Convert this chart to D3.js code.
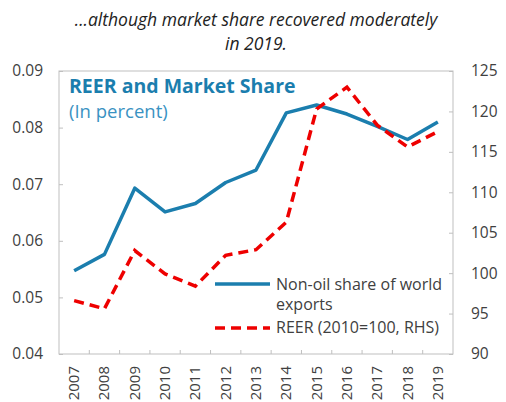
<!DOCTYPE html>
<html>
<head>
<meta charset="utf-8">
<script src="https://cdn.jsdelivr.net/npm/d3@7"></script>
<style>
  body { margin: 0; background: #fff; }
  svg text { font-family: "Open Sans", "Noto Sans", sans-serif; }
</style>
</head>
<body>
<script>
const years = ["2007","2008","2009","2010","2011","2012","2013","2014","2015","2016","2017","2018","2019"];
const share = [0.0547, 0.0576, 0.0693, 0.0651, 0.0666, 0.0703, 0.0725, 0.0826, 0.0840, 0.0824, 0.0802, 0.0779, 0.0810];
const reer = [96.6, 95.6, 102.8, 99.9, 98.4, 102.2, 102.9, 106.3, 120.3, 123.0, 118.3, 115.6, 117.5];
const leftTicks = [0.04, 0.05, 0.06, 0.07, 0.08, 0.09];
const rightTicks = [90, 95, 100, 105, 110, 115, 120, 125];

const W = 506, H = 402;
const m = { left: 59, right: 453, top: 71, bottom: 354 };
const blue = "#1b7eae", red = "#ee0000", grey = "#bfbfbf", txt = "#404040";

const svg = d3.select("body").append("svg").attr("width", W).attr("height", H);

const x = d3.scaleBand().domain(years).range([m.left, m.right]);
const yL = d3.scaleLinear().domain([0.04, 0.09]).range([m.bottom, m.top]);
const yR = d3.scaleLinear().domain([90, 125]).range([m.bottom, m.top]);

// header
const head = svg.append("text").attr("text-anchor", "middle").attr("font-style", "italic")
    .attr("font-size", 17.5).attr("fill", "#222");
head.append("tspan").attr("x", 256).attr("y", 26).text("...although market share recovered moderately");
head.append("tspan").attr("x", 256).attr("y", 50).text("in 2019.");

// frame
svg.append("rect").attr("x", m.left).attr("y", m.top)
    .attr("width", m.right - m.left).attr("height", m.bottom - m.top)
    .attr("fill", "none").attr("stroke", grey).attr("stroke-width", 1);

// left axis
const gl = svg.append("g").attr("transform", `translate(${m.left},0)`)
    .call(d3.axisLeft(yL).tickValues(leftTicks).tickFormat(d3.format(".2f")).tickSize(-4).tickPadding(16));
gl.select(".domain").remove();
gl.selectAll("line").attr("stroke", grey);
gl.selectAll("text").attr("font-size", 15.5).attr("fill", txt);

// right axis
const gr = svg.append("g").attr("transform", `translate(${m.right},0)`)
    .call(d3.axisRight(yR).tickValues(rightTicks).tickSize(-4).tickPadding(18));
gr.select(".domain").remove();
gr.selectAll("line").attr("stroke", grey);
gr.selectAll("text").attr("font-size", 15.5).attr("fill", txt);

// x axis: ticks between bands
svg.append("g").selectAll("line").data(years.slice(1)).join("line")
    .attr("x1", d => x(d)).attr("x2", d => x(d))
    .attr("y1", m.bottom).attr("y2", m.bottom - 4)
    .attr("stroke", grey);
svg.append("g").selectAll("text").data(years).join("text")
    .attr("transform", d => `translate(${x(d) + x.bandwidth() / 2 + 5},${m.bottom + 12}) rotate(-90)`)
    .attr("text-anchor", "end")
    .attr("font-size", 15).attr("fill", txt)
    .text(d => d);

// lines
const lineL = d3.line().x((d, i) => x(years[i]) + x.bandwidth() / 2).y(d => yL(d));
const lineR = d3.line().x((d, i) => x(years[i]) + x.bandwidth() / 2).y(d => yR(d));
svg.append("path").datum(share).attr("d", lineL)
    .attr("fill", "none").attr("stroke", blue).attr("stroke-width", 3.5).attr("stroke-linejoin", "round");
svg.append("path").datum(reer).attr("d", lineR)
    .attr("fill", "none").attr("stroke", red).attr("stroke-width", 3.5)
    .attr("stroke-dasharray", "10,6");

// chart title
svg.append("text").attr("x", 69).attr("y", 93).attr("font-size", 19.5).attr("font-weight", "bold")
    .attr("fill", "#1b7eae").text("REER and Market Share");
svg.append("text").attr("x", 69).attr("y", 118).attr("font-size", 18.5)
    .attr("fill", "#3a92c2").text("(In percent)");

// legend
const lg = svg.append("g");
lg.append("line").attr("x1", 215).attr("x2", 270).attr("y1", 284).attr("y2", 284)
    .attr("stroke", blue).attr("stroke-width", 3.5);
lg.append("text").attr("x", 276).attr("y", 290).attr("font-size", 16).attr("fill", txt).text("Non-oil share of world");
lg.append("text").attr("x", 276).attr("y", 310).attr("font-size", 16).attr("fill", txt).text("exports");
lg.append("line").attr("x1", 215).attr("x2", 270).attr("y1", 328).attr("y2", 328)
    .attr("stroke", red).attr("stroke-width", 3.5).attr("stroke-dasharray", "10,6");
lg.append("text").attr("x", 276).attr("y", 333).attr("font-size", 16).attr("fill", txt).text("REER (2010=100, RHS)");
</script>
</body>
</html>
